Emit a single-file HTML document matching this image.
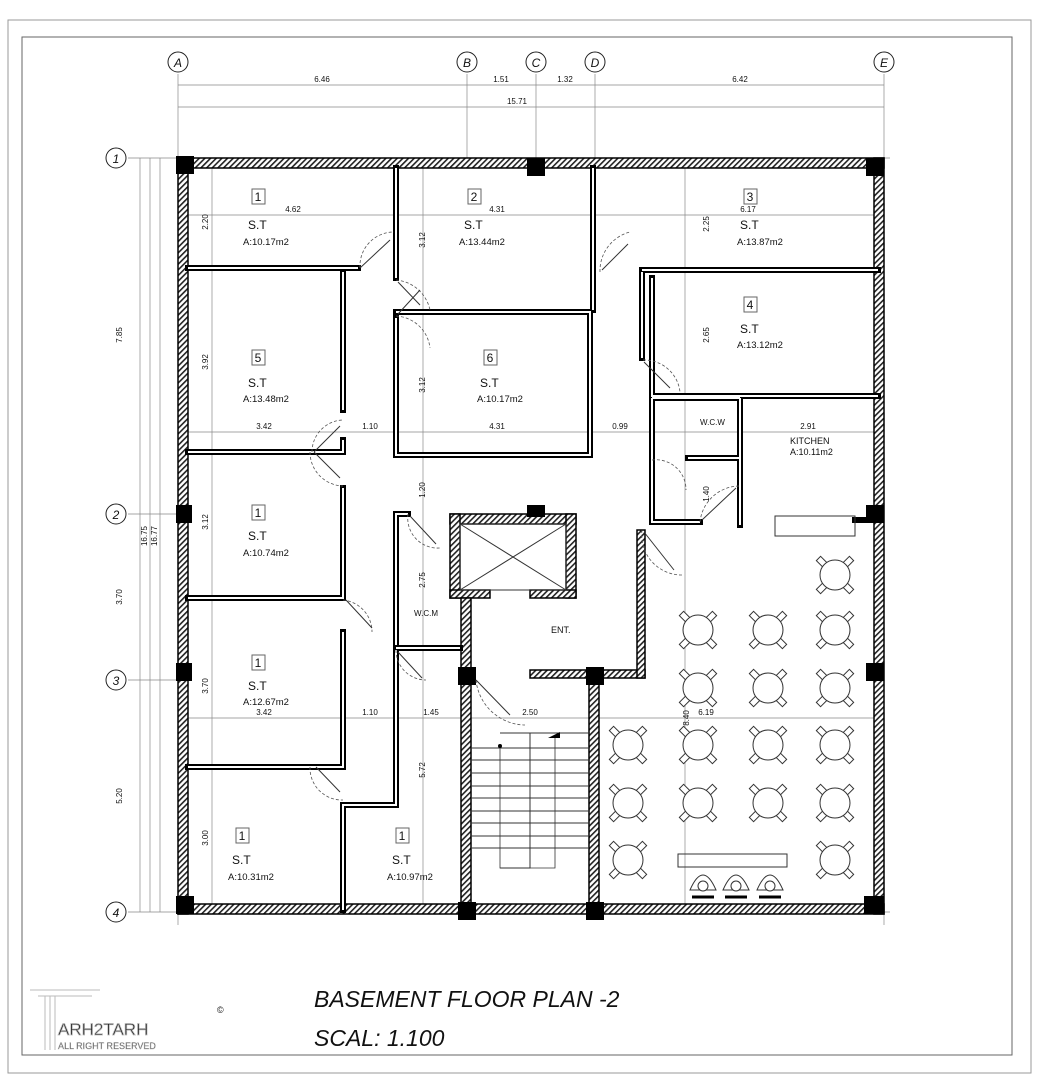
<!DOCTYPE html>
<html><head><meta charset="utf-8"><style>
html,body{margin:0;padding:0;background:#fff}
svg{display:block}
text{font-family:"Liberation Sans",sans-serif;fill:#111}
.d{font-size:8px}
.n{font-size:12px}
.a{font-size:9.5px}
</style></head><body>
<svg id="s" width="1039" height="1080" viewBox="0 0 1039 1080" xmlns="http://www.w3.org/2000/svg">
<defs>
<pattern id="h" width="4" height="4" patternUnits="userSpaceOnUse" patternTransform="rotate(45)">
<rect width="4" height="4" fill="#fff"/><rect width="1.6" height="4" fill="#222"/></pattern>
</defs>
<!-- frame -->
<rect x="8" y="20" width="1023" height="1053" fill="none" stroke="#999" stroke-width="1"/>
<rect x="22" y="37" width="990" height="1018" fill="none" stroke="#666" stroke-width="1"/>
<!-- grid lines -->
<g stroke="#888" stroke-width="0.7" fill="none">
<line x1="178" y1="74" x2="178" y2="925"/><line x1="467" y1="74" x2="467" y2="158"/>
<line x1="536" y1="74" x2="536" y2="158"/><line x1="595" y1="74" x2="595" y2="158"/>
<line x1="884" y1="74" x2="884" y2="925"/>
<line x1="128" y1="158" x2="890" y2="158"/><line x1="128" y1="514" x2="182" y2="514"/>
<line x1="128" y1="680" x2="182" y2="680"/><line x1="128" y1="912" x2="890" y2="912"/>
<line x1="178" y1="85" x2="884" y2="85"/><line x1="178" y1="107" x2="884" y2="107"/>
<line x1="140" y1="158" x2="140" y2="912"/><line x1="150" y1="158" x2="150" y2="912"/><line x1="160" y1="158" x2="160" y2="912"/>
<line x1="182" y1="215" x2="880" y2="215"/><line x1="182" y1="432" x2="880" y2="432"/><line x1="182" y1="718" x2="880" y2="718"/>
<line x1="212" y1="165" x2="212" y2="905"/><line x1="423" y1="165" x2="423" y2="905"/><line x1="685" y1="165" x2="685" y2="905"/>
</g>
<g fill="#fff" stroke="#222" stroke-width="1">
<circle cx="178" cy="62" r="10"/><circle cx="467" cy="62" r="10"/><circle cx="536" cy="62" r="10"/><circle cx="595" cy="62" r="10"/><circle cx="884" cy="62" r="10"/>
<circle cx="116" cy="158" r="10"/><circle cx="116" cy="514" r="10"/><circle cx="116" cy="680" r="10"/><circle cx="116" cy="912" r="10"/>
</g>
<g font-size="12" text-anchor="middle" font-style="italic">
<text x="178" y="67">A</text><text x="467" y="67">B</text><text x="536" y="67">C</text><text x="595" y="67">D</text><text x="884" y="67">E</text>
<text x="116" y="163">1</text><text x="116" y="519">2</text><text x="116" y="685">3</text><text x="116" y="917">4</text>
</g>
<g class="d" text-anchor="middle">
<text x="322" y="82">6.46</text><text x="501" y="82">1.51</text><text x="565" y="82">1.32</text><text x="740" y="82">6.42</text><text x="517" y="104">15.71</text>
<text transform="translate(122,335) rotate(-90)">7.85</text><text transform="translate(147,536) rotate(-90)">16.75</text><text transform="translate(157,536) rotate(-90)">16.77</text>
<text transform="translate(122,597) rotate(-90)">3.70</text><text transform="translate(122,796) rotate(-90)">5.20</text>
<text x="293" y="212">4.62</text><text x="497" y="212">4.31</text><text x="748" y="212">6.17</text>
<text x="264" y="429">3.42</text><text x="370" y="429">1.10</text><text x="497" y="429">4.31</text><text x="620" y="429">0.99</text><text x="808" y="429">2.91</text>
<text x="264" y="715">3.42</text><text x="370" y="715">1.10</text><text x="431" y="715">1.45</text><text x="530" y="715">2.50</text><text x="706" y="715">6.19</text>
<text transform="translate(208,222) rotate(-90)">2.20</text><text transform="translate(208,362) rotate(-90)">3.92</text><text transform="translate(208,522) rotate(-90)">3.12</text>
<text transform="translate(208,686) rotate(-90)">3.70</text><text transform="translate(208,838) rotate(-90)">3.00</text>
<text transform="translate(425,240) rotate(-90)">3.12</text><text transform="translate(425,385) rotate(-90)">3.12</text><text transform="translate(425,490) rotate(-90)">1.20</text>
<text transform="translate(425,580) rotate(-90)">2.75</text><text transform="translate(425,770) rotate(-90)">5.72</text>
<text transform="translate(709,224) rotate(-90)">2.25</text><text transform="translate(709,335) rotate(-90)">2.65</text><text transform="translate(709,494) rotate(-90)">1.40</text>
<text transform="translate(689,718) rotate(-90)">8.40</text>
</g>
<!-- exterior walls -->
<g fill="url(#h)" stroke="#000" stroke-width="1.5">
<rect x="178" y="158" width="706" height="10"/><rect x="178" y="904" width="706" height="10"/>
<rect x="178" y="158" width="10" height="756"/><rect x="874" y="158" width="10" height="756"/>
<rect x="450" y="514" width="126" height="10"/><rect x="450" y="514" width="10" height="84"/><rect x="566" y="514" width="10" height="84"/>
<rect x="450" y="590" width="40" height="8"/><rect x="530" y="590" width="46" height="8"/>
<rect x="461" y="598" width="10" height="312"/><rect x="589" y="676" width="10" height="234"/>
<rect x="530" y="670" width="115" height="8"/><rect x="637" y="530" width="8" height="148"/>
</g>
<g fill="#000">
<rect x="176" y="156" width="18" height="18"/><rect x="527" y="158" width="18" height="18"/><rect x="866" y="158" width="18" height="18"/>
<rect x="176" y="505" width="16" height="18"/><rect x="866" y="505" width="18" height="18"/><rect x="527" y="505" width="18" height="12"/>
<rect x="176" y="663" width="16" height="18"/><rect x="866" y="663" width="18" height="18"/>
<rect x="458" y="667" width="18" height="18"/><rect x="586" y="667" width="18" height="18"/>
<rect x="176" y="896" width="18" height="18"/><rect x="458" y="902" width="18" height="18"/><rect x="586" y="902" width="18" height="18"/><rect x="864" y="896" width="20" height="18"/>
</g>
<!-- interior walls -->
<g stroke="#000" stroke-width="6" fill="none" stroke-linecap="square" id="w">
<path d="M188 268H358M343 272V410M188 452H343V440"/>
<path d="M396 168V278M396 318V455H590V312H396M593 168V310"/>
<path d="M642 270H878M642 272V358M652 278V396H878"/>
<path d="M188 598H343V488M188 767H343V632M343 767V"/>
<path d="M343 910V805H396V650M396 645V514H408M396 648H460"/>
<path d="M652 398V522H700M652 398H740M688 458H740M740 398V525M740 398V400"/>
<path d="M855 520H876"/>
</g>
<g stroke="#fff" stroke-width="2" fill="none">
<path d="M188 268H358M343 272V410M188 452H343V440"/>
<path d="M396 168V278M396 318V455H590V312H396M593 168V310"/>
<path d="M642 270H878M642 272V358M652 278V396H878"/>
<path d="M188 598H343V488M188 767H343V632"/>
<path d="M343 910V805H396V650M396 645V514H408M396 648H460"/>
<path d="M652 398V522H700M652 398H740M688 458H740M740 398V525"/>
</g>
<!-- doors -->
<g stroke="#555" stroke-width="0.8" fill="none" stroke-dasharray="3 2">
<path d="M360 268A34 34 0 0 1 394 232"/><path d="M396 280A38 38 0 0 1 430 310"/><path d="M396 316A36 36 0 0 1 430 348"/>
<path d="M600 272A40 40 0 0 1 630 232"/><path d="M643 360A36 36 0 0 1 680 392"/>
<path d="M312 452A32 32 0 0 1 343 420"/><path d="M310 452A34 34 0 0 0 343 486"/>
<path d="M343 600A32 32 0 0 1 372 632"/><path d="M310 767A32 32 0 0 0 343 800"/>
<path d="M408 514A30 30 0 0 0 440 548"/><path d="M396 650A30 30 0 0 0 426 680"/>
<path d="M642 530A40 40 0 0 0 682 575"/><path d="M700 522A40 40 0 0 1 740 486"/>
<path d="M476 680A50 50 0 0 0 525 725"/><path d="M652 460A30 30 0 0 1 686 490"/>
</g>
<g stroke="#333" stroke-width="1" fill="none">
<path d="M360 268L390 240M398 282L420 305M398 314L420 290M602 270L628 244M644 362L670 388M314 452L340 426M314 452L340 478"/>
<path d="M346 600L372 628M316 767L340 792M410 516L436 544M398 652L422 678M644 532L674 570M702 520L736 488M476 680L510 715"/>
<!-- elevator -->
<rect x="460" y="524" width="106" height="66"/><path d="M460 524L566 590M566 524L460 590"/>
<!-- stairs -->
<path d="M500 733H530V868H500M530 733H590"/>
<path d="M471 748H589M471 760H589M471 773H589M471 786H589M471 798H589M471 811H589M471 823H589M471 836H589M471 848H589"/>
<path d="M500 746V868H555V738" stroke-width="0.8"/>
<!-- counters -->
<rect x="775" y="516" width="80" height="20"/><rect x="678" y="854" width="109" height="13"/>
</g>
<circle cx="500" cy="746" r="2" fill="#000"/><path d="M548 738L560 732V738Z" fill="#000"/>
<g id="tables" stroke="#333" stroke-width="1" fill="#fff"></g>
<g stroke="#333" stroke-width="1" fill="#fff">
<path d="M690 890Q703 860 716 890Z"/><circle cx="703" cy="886" r="5"/><path d="M692 897H714" stroke="#000" stroke-width="3"/>
<path d="M723 890Q736 860 749 890Z"/><circle cx="736" cy="886" r="5"/><path d="M725 897H747" stroke="#000" stroke-width="3"/>
<path d="M757 890Q770 860 783 890Z"/><circle cx="770" cy="886" r="5"/><path d="M759 897H781" stroke="#000" stroke-width="3"/>
</g>
<!-- room labels -->
<g fill="#fff" stroke="#666" stroke-width="1">
<rect x="252" y="189" width="13" height="15"/><rect x="468" y="189" width="13" height="15"/><rect x="744" y="189" width="13" height="15"/>
<rect x="744" y="297" width="13" height="15"/><rect x="252" y="350" width="13" height="15"/><rect x="484" y="350" width="13" height="15"/>
<rect x="252" y="505" width="13" height="15"/><rect x="252" y="655" width="13" height="15"/><rect x="236" y="828" width="13" height="15"/><rect x="396" y="828" width="13" height="15"/>
</g>
<g class="n" text-anchor="middle">
<text x="258" y="201">1</text><text x="474" y="201">2</text><text x="750" y="201">3</text><text x="750" y="309">4</text><text x="258" y="362">5</text><text x="490" y="362">6</text>
<text x="258" y="517">1</text><text x="258" y="667">1</text><text x="242" y="840">1</text><text x="402" y="840">1</text>
</g>
<g class="n">
<text x="248" y="229">S.T</text><text x="464" y="229">S.T</text><text x="740" y="229">S.T</text><text x="740" y="333">S.T</text>
<text x="248" y="387">S.T</text><text x="480" y="387">S.T</text><text x="248" y="540">S.T</text><text x="248" y="690">S.T</text>
<text x="232" y="864">S.T</text><text x="392" y="864">S.T</text>
</g>
<g class="a">
<text x="243" y="245">A:10.17m2</text><text x="459" y="245">A:13.44m2</text><text x="737" y="245">A:13.87m2</text><text x="737" y="348">A:13.12m2</text>
<text x="243" y="402">A:13.48m2</text><text x="477" y="402">A:10.17m2</text><text x="243" y="556">A:10.74m2</text><text x="243" y="705">A:12.67m2</text>
<text x="228" y="880">A:10.31m2</text><text x="387" y="880">A:10.97m2</text>
<text x="790" y="444" font-size="9">KITCHEN</text><text x="790" y="455" font-size="9">A:10.11m2</text>
<text x="700" y="425" font-size="8">W.C.W</text><text x="414" y="616" font-size="8">W.C.M</text><text x="551" y="633" font-size="9">ENT.</text>
</g>
<!-- title -->
<text x="314" y="1007" font-size="23" font-style="italic">BASEMENT FLOOR PLAN -2</text>
<text x="314" y="1046" font-size="23" font-style="italic">SCAL: 1.100</text>
<g fill="none" stroke="#bbb" stroke-width="1">
<path d="M30 990H100M38 996H92M45 996V1050M50 996V1050M55 996V1050"/>
</g>
<text x="58" y="1035" font-size="17" fill="#fff" stroke="#bbb" stroke-width="0.8">ARH2TARH</text>
<text x="58" y="1049" font-size="9" fill="#fff" stroke="#bbb" stroke-width="0.5">ALL RIGHT RESERVED</text>
<text x="217" y="1013" font-size="9" fill="#aaa">©</text>
</svg>
<script>
var g=document.getElementById('tables'),ns='http://www.w3.org/2000/svg';
var T=[[835,575],[698,630],[768,630],[835,630],[698,688],[768,688],[835,688],[628,745],[698,745],[768,745],[835,745],[628,803],[698,803],[768,803],[835,803],[628,860],[835,860]];
T.forEach(function(p){var x=p[0],y=p[1];
[[-1,-1],[1,-1],[-1,1],[1,1]].forEach(function(d){var r=document.createElementNS(ns,'rect');
r.setAttribute('x',-5);r.setAttribute('y',-3);r.setAttribute('width',10);r.setAttribute('height',6);
r.setAttribute('transform','translate('+(x+d[0]*13)+','+(y+d[1]*13)+') rotate('+(d[0]*d[1]>0?45:-45)+')');g.appendChild(r);});
var c=document.createElementNS(ns,'circle');c.setAttribute('cx',x);c.setAttribute('cy',y);c.setAttribute('r',15);g.appendChild(c);});
</script>
</body></html>
